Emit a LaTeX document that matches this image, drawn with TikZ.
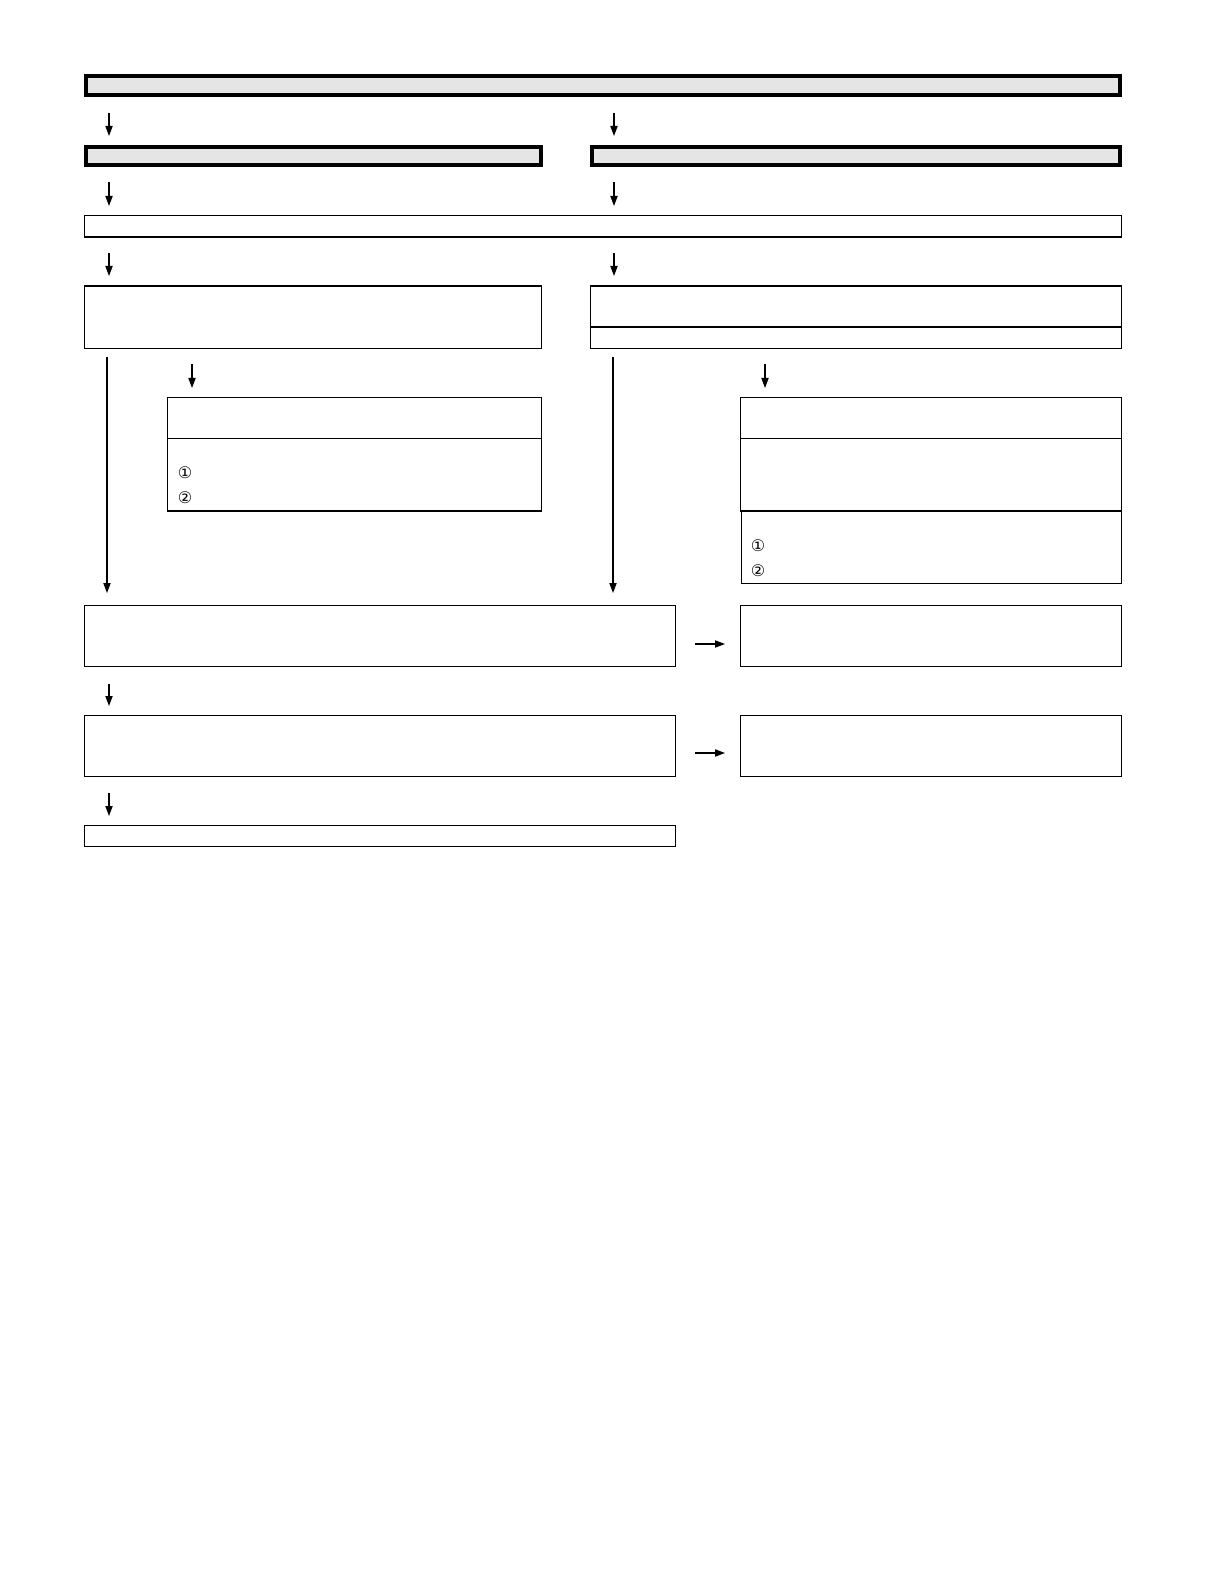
\documentclass[tikz,border=0pt]{standalone}
\usepackage{fontspec}
\newfontfamily\symfont{DejaVu Sans}
\usetikzlibrary{fit,arrows.meta}
\begin{document}
\begin{tikzpicture}[x=0.5pt,y=-0.5pt,
 thickbox/.style={draw, line width=2pt, fill=black!10, inner sep=0pt},
 thinbox/.style={draw, line width=0.6pt, inner sep=0pt},
 arr/.style={line width=0.6pt, -{Triangle[width=3.6pt,length=5pt]}},
 num/.style={font=\symfont\fontsize{8pt}{9pt}\selectfont, inner sep=0pt}]
\useasboundingbox (0,0) rectangle (1220,1588);
% thick header boxes
\coordinate (t1) at (86,76); \coordinate (t2) at (1120,95);
\node[thickbox, fit=(t1)(t2)] (top) {};
\coordinate (l1) at (86,147); \coordinate (l2) at (541,165);
\node[thickbox, fit=(l1)(l2)] (hl) {};
\coordinate (r1) at (592,147); \coordinate (r2) at (1120,165);
\node[thickbox, fit=(r1)(r2)] (hr) {};
% row 3
\coordinate (c1) at (84.5,215.5); \coordinate (c2) at (1121.5,237);
\node[thinbox, fit=(c1)(c2)] (b3) {};
% row 4
\coordinate (d1) at (84.5,286); \coordinate (d2) at (541.5,348.5);
\node[thinbox, fit=(d1)(d2)] (b4l) {};
\coordinate (e1) at (590.5,286); \coordinate (e2) at (1121.5,327);
\node[thinbox, fit=(e1)(e2)] (b4r) {};
\coordinate (e3) at (590.5,327); \coordinate (e4) at (1121.5,348.5);
\node[thinbox, fit=(e3)(e4)] (b4rb) {};
% row 5 left
\coordinate (f1) at (167.5,397.5); \coordinate (f2) at (541.5,438.5);
\node[thinbox, fit=(f1)(f2)] (b5l) {};
\coordinate (f3) at (167.5,438.5); \coordinate (f4) at (541.5,511);
\node[thinbox, fit=(f3)(f4)] (b5lb) {};
\node[num] (n1l) at (185,473) {①};
\node[num] (n2l) at (185,498) {②};
% row 5 right
\coordinate (g1) at (740.5,397.5); \coordinate (g2) at (1121.5,438.5);
\node[thinbox, fit=(g1)(g2)] (b5r) {};
\coordinate (g3) at (740.5,438.5); \coordinate (g4) at (1121.5,511);
\node[thinbox, fit=(g3)(g4)] (b5rb) {};
\coordinate (g5) at (741.5,511); \coordinate (g6) at (1121.5,583.5);
\node[thinbox, fit=(g5)(g6)] (b6r) {};
\node[num] (n1r) at (758,546) {①};
\node[num] (n2r) at (758,571) {②};
% row 7
\coordinate (h1) at (84.5,605.5); \coordinate (h2) at (675.5,666.5);
\node[thinbox, fit=(h1)(h2)] (b7l) {};
\coordinate (h3) at (740.5,605.5); \coordinate (h4) at (1121.5,666.5);
\node[thinbox, fit=(h3)(h4)] (b7r) {};
% row 8
\coordinate (i1) at (84.5,715.5); \coordinate (i2) at (675.5,776.5);
\node[thinbox, fit=(i1)(i2)] (b8l) {};
\coordinate (i3) at (740.5,715.5); \coordinate (i4) at (1121.5,776.5);
\node[thinbox, fit=(i3)(i4)] (b8r) {};
% row 9
\coordinate (j1) at (84.5,825.5); \coordinate (j2) at (675.5,846.5);
\node[thinbox, fit=(j1)(j2)] (b9) {};
% arrows
\coordinate (a1s) at (109,113); \coordinate (a1e) at (109,136);
\coordinate (a2s) at (614,113); \coordinate (a2e) at (614,136);
\coordinate (a3s) at (109,182); \coordinate (a3e) at (109,206);
\coordinate (a4s) at (614,182); \coordinate (a4e) at (614,206);
\coordinate (a5s) at (109,253); \coordinate (a5e) at (109,276);
\coordinate (a6s) at (614,253); \coordinate (a6e) at (614,276);
\coordinate (a7s) at (107,357); \coordinate (a7e) at (107,593);
\coordinate (a8s) at (613,357); \coordinate (a8e) at (613,593);
\coordinate (a9s) at (192,364); \coordinate (a9e) at (192,388);
\coordinate (a10s) at (765,364); \coordinate (a10e) at (765,388);
\coordinate (a11s) at (695,644); \coordinate (a11e) at (725,644);
\coordinate (a12s) at (695,753); \coordinate (a12e) at (725,753);
\coordinate (a13s) at (109,684); \coordinate (a13e) at (109,706);
\coordinate (a14s) at (109,793); \coordinate (a14e) at (109,816);
\foreach \k in {1,...,14} {\draw[arr] (a\k s) -- (a\k e);}
\end{tikzpicture}
\end{document}
